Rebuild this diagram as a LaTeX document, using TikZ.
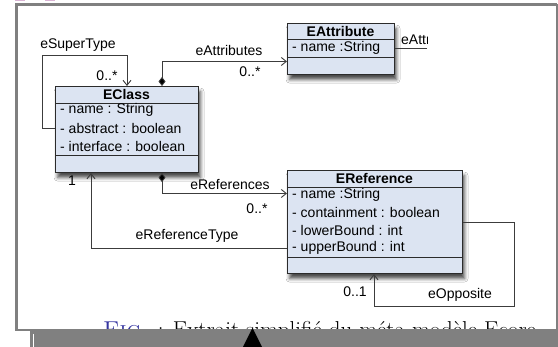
\documentclass[tikz,border=0pt]{standalone}
\usepackage{fontspec}
\newfontfamily\umlfont{Liberation Sans}
\usetikzlibrary{arrows.meta,shadows.blur,calc}
\definecolor{boxfill}{HTML}{DCE4F2}
\definecolor{boxdraw}{HTML}{2B2B2B}
\definecolor{wire}{HTML}{3C3C3C}
\definecolor{framegray}{HTML}{808080}
\definecolor{figblue}{HTML}{3535A0}
\definecolor{inkpink}{HTML}{D9B3D3}

\begin{document}
\begin{tikzpicture}[x=1pt,y=-1pt,
  classbox/.style={draw=boxdraw, line width=1.1pt, fill=boxfill, inner sep=0pt,
    anchor=north west,
    blur shadow={shadow xshift=2pt, shadow yshift=-5pt, shadow blur radius=3.5pt, shadow opacity=70}},
  sep/.style={draw=boxdraw, line width=0.9pt},
  cname/.style={font=\umlfont\bfseries\fontsize{14}{16}\selectfont, inner sep=0pt, text=black},
  attr/.style={font=\umlfont\fontsize{14}{16}\selectfont, inner sep=0pt, anchor=west, text=black},
  lbl/.style={font=\umlfont\fontsize{14}{16}\selectfont, inner sep=0pt, text=black},
  conn/.style={draw=wire, line width=0.85pt},
  open/.style={-{Straight Barb[length=5pt,width=8pt,line width=0.9pt]}},
  owned/.style={{Diamond[length=9pt,width=7pt,fill=black]}-{Straight Barb[length=5pt,width=8pt,line width=0.9pt]}},
  frameline/.style={draw=framegray, line width=2.5pt},
]
\useasboundingbox[fill=white] (0,0) rectangle (558,347);

% traces of the line above the frame
\fill[inkpink] (15,0) rectangle (25,1.5);
\fill[inkpink] (45,0) rectangle (55,1.5);

% caption, partly hidden by the bar below
\begin{scope}
  \clip (18,300) rectangle (555,347);
  \node[anchor=base west, inner sep=0pt, font=\fontsize{23}{27}\selectfont] (caption) at (103,338)
    {\textcolor{figblue}{\textsc{Fig.}} : Extrait simplifié du méta-modèle Ecore};
\end{scope}

% frame and bottom bar
\draw[frameline] (16.5,331) -- (16.5,4.5) -- (556.5,4.5);
\draw[draw=framegray, line width=1.5pt] (556.8,4.5) -- (556.8,347);
\draw[draw=framegray, line width=2pt] (15.5,330.5) -- (558,330.5);
\fill[framegray] (30,330) rectangle (558,347);
\draw[white, line width=1pt] (33,334) -- (33,347);
\fill[black] (252.5,328) -- (262,347) -- (243,347) -- cycle;

% ---- classes ----
\node[classbox, minimum width=143pt, minimum height=86pt] (eclass) at (55,86) {};
\draw[sep] (55,103) -- (198,103);
\draw[sep] (55,155) -- (198,155);
\node[cname] (eclass-name) at (126.5,94.5) {EClass};
\node[attr] (eclass-a1) at (60,110) {- name : String};
\node[attr] (eclass-a2) at (60,128) {- abstract : boolean};
\node[attr] (eclass-a3) at (60,146) {- interface : boolean};

\node[classbox, minimum width=107pt, minimum height=51pt] (eattr) at (287,23) {};
\draw[sep] (287,39.5) -- (394,39.5);
\draw[sep] (287,57) -- (394,57);
\node[cname] (eattr-name) at (340.5,31) {EAttribute};
\node[attr] (eattr-a1) at (292,48) {- name :String};

\node[classbox, minimum width=175pt, minimum height=103pt] (eref) at (287,170) {};
\draw[sep] (287,187) -- (462,187);
\draw[sep] (287,257) -- (462,257);
\node[cname] (eref-name) at (374.5,178.5) {EReference};
\node[attr] (eref-a1) at (292,195) {- name :String};
\node[attr] (eref-a2) at (292,212.5) {- containment : boolean};
\node[attr] (eref-a3) at (292,230) {- lowerBound : int};
\node[attr] (eref-a4) at (292,247.5) {- upperBound : int};

% ---- associations ----
% eSuperType
\draw[conn, open] ($(eclass.north west)+(0,42)$) -| (42,55) -| ($(eclass.north west)+(72,0)$);
\node[lbl] (l-super) at (78,45) {eSuperType};
\node[lbl] (m-super) at (107,76) {0..*};

% eAttributes
\draw[conn, owned] ($(eclass.north west)+(107,0)$) |- ($(eattr.north west)+(0,38.5)$);
\node[lbl] (l-attr) at (229,51) {eAttributes};
\node[lbl] (m-attr) at (250,72) {0..*};

% eAttributes of EClass, continuing past the frame
\coordinate (attr-out) at (427,48);
\draw[conn] ($(eattr.north east)+(0,25)$) -- (attr-out);
\begin{scope}
  \clip (395,25) rectangle (attr-out);
  \node[lbl, anchor=west] (l-attr2) at (401,39) {eAttributes};
\end{scope}

% eReferences
\draw[conn, owned] ($(eclass.south west)+(107,0)$) |- ($(eref.north west)+(0,23.5)$);
\node[lbl] (l-refs) at (230,185) {eReferences};
\node[lbl] (m-refs) at (257,209) {0..*};

% eReferenceType
\draw[conn, open] ($(eref.north west)+(0,78)$) -| ($(eclass.south west)+(36,0)$);
\node[lbl] (l-reftype) at (187,236) {eReferenceType};
\node[lbl] (m-reftype) at (72,181) {1};

% eOpposite
\draw[conn, open] ($(eref.north east)+(0,52)$) -| (514,306) -| ($(eref.south west)+(87,0)$);
\node[lbl] (l-opp) at (460,295) {eOpposite};
\node[lbl] (m-opp) at (355,292) {0..1};
\end{tikzpicture}
\end{document}
